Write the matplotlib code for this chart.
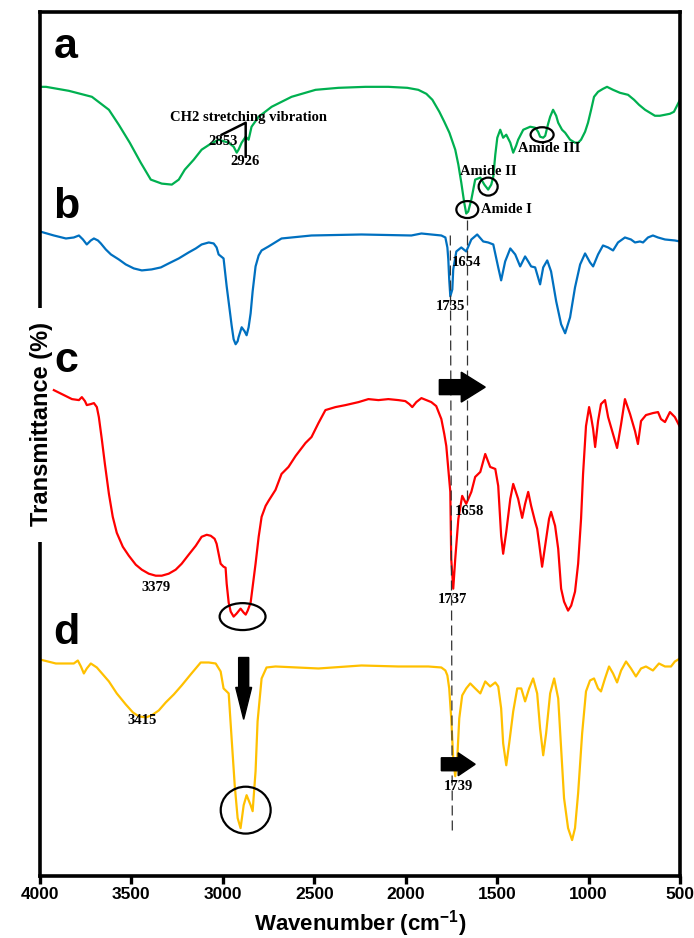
import matplotlib
matplotlib.use("Agg")
import matplotlib.pyplot as plt
from matplotlib.patches import Ellipse, FancyArrow, Rectangle

# wavenumbers (cm-1) and stacked transmittance (a.u.)
wn_a = [4000, 3967, 3842, 3716, 3623, 3569, 3509, 3449, 3394, 3334, 3279, 3241, 3208, 3159, 3116,
        3066, 3023, 2968, 2941, 2924, 2914, 2897, 2875, 2859, 2843, 2804, 2733, 2624, 2493, 2368,
        2220, 2095, 1991, 1931, 1887, 1854, 1816, 1789, 1761, 1729, 1712, 1696, 1680, 1669, 1658,
        1641, 1620, 1592, 1570, 1549, 1532, 1521, 1510, 1499, 1483, 1467, 1450, 1428, 1412, 1396,
        1385, 1357, 1319, 1292, 1276, 1265, 1248, 1237, 1221, 1210, 1194, 1177, 1166, 1145, 1128,
        1101, 1074, 1057, 1041, 1019, 1003, 986, 970, 948, 921, 899, 866, 828, 784, 751,
        724, 691, 664, 637, 610, 582, 555, 533, 522, 500]
t_a = [791, 791, 787, 781, 768, 753, 735, 715, 698, 694, 693, 698, 708, 718, 728,
       734, 738, 735, 731, 725, 728, 735, 741, 738, 751, 761, 771, 781, 788, 790,
       791, 791, 790, 788, 784, 778, 766, 756, 745, 728, 713, 695, 675, 664, 666,
       678, 698, 700, 693, 688, 693, 701, 723, 740, 748, 740, 743, 735, 725, 732,
       738, 748, 751, 750, 746, 741, 740, 742, 754, 761, 768, 762, 755, 748, 745,
       738, 735, 735, 738, 746, 755, 768, 781, 786, 789, 791, 788, 785, 783, 778,
       773, 768, 765, 762, 762, 763, 764, 766, 770, 778]

wn_b = [4000, 3924, 3858, 3815, 3787, 3765, 3744, 3722, 3705, 3683, 3667, 3640, 3612, 3569, 3531,
        3487, 3443, 3389, 3339, 3296, 3241, 3187, 3148, 3116, 3077, 3050, 3034, 3023, 2996, 2979,
        2963, 2952, 2941, 2930, 2919, 2914, 2897, 2881, 2870, 2859, 2848, 2837, 2821, 2804, 2788,
        2750, 2679, 2515, 2242, 1969, 1914, 1860, 1805, 1783, 1772, 1767, 1762, 1756, 1745, 1740,
        1723, 1696, 1669, 1641, 1609, 1576, 1549, 1521, 1494, 1478, 1456, 1428, 1401, 1374, 1347,
        1330, 1314, 1292, 1265, 1248, 1226, 1205, 1177, 1150, 1128, 1101, 1074, 1046, 1019, 992,
        975, 948, 921, 893, 866, 839, 801, 768, 746, 719, 702, 675, 648, 620, 582,
        528, 500]
t_b = [646, 642, 639, 640, 642, 638, 633, 637, 639, 637, 634, 628, 623, 618, 613,
       609, 607, 608, 610, 614, 619, 625, 629, 633, 635, 634, 630, 623, 619, 591,
       568, 552, 538, 533, 536, 540, 550, 546, 542, 550, 564, 586, 611, 622, 627,
       631, 639, 642, 643, 642, 644, 643, 642, 640, 630, 618, 598, 581, 588, 608,
       626, 630, 626, 638, 643, 636, 635, 633, 610, 597, 616, 629, 623, 611, 621,
       616, 611, 610, 593, 610, 617, 606, 576, 553, 544, 560, 590, 613, 624, 615,
       611, 623, 632, 630, 627, 635, 640, 638, 635, 636, 635, 640, 642, 640, 638,
       637, 636]

wn_c = [3924, 3869, 3825, 3787, 3771, 3754, 3744, 3722, 3705, 3689, 3678, 3662, 3645, 3623, 3602,
        3580, 3547, 3514, 3476, 3443, 3405, 3367, 3334, 3296, 3258, 3225, 3187, 3148, 3116, 3088,
        3066, 3045, 3034, 3023, 3012, 2996, 2985, 2979, 2968, 2957, 2941, 2925, 2903, 2886, 2875,
        2864, 2848, 2837, 2821, 2804, 2788, 2766, 2750, 2712, 2679, 2641, 2602, 2548, 2515, 2477,
        2439, 2384, 2329, 2258, 2204, 2149, 2095, 2040, 2002, 1980, 1964, 1942, 1914, 1860, 1833,
        1805, 1789, 1778, 1767, 1756, 1751, 1740, 1729, 1712, 1691, 1669, 1641, 1620, 1592, 1565,
        1538, 1510, 1494, 1478, 1467, 1450, 1428, 1412, 1385, 1363, 1347, 1330, 1314, 1292, 1281,
        1270, 1254, 1232, 1216, 1205, 1183, 1166, 1150, 1134, 1112, 1095, 1074, 1057, 1041, 1030,
        1014, 997, 986, 975, 964, 948, 932, 910, 893, 866, 844, 822, 801, 773, 746,
        730, 713, 686, 648, 620, 604, 582, 555, 528, 500]
t_c = [487, 482, 478, 477, 480, 476, 472, 473, 474, 470, 460, 438, 413, 383, 360,
       344, 330, 321, 312, 307, 303, 301, 301, 303, 307, 313, 322, 331, 340, 342,
       341, 338, 333, 323, 313, 310, 309, 293, 274, 265, 260, 263, 268, 264, 262,
       266, 274, 290, 313, 340, 360, 371, 376, 387, 403, 410, 421, 434, 440, 454,
       467, 470, 472, 475, 478, 477, 478, 477, 476, 473, 470, 475, 479, 475, 471,
       458, 443, 431, 408, 385, 318, 288, 318, 358, 381, 373, 385, 400, 405, 423,
       410, 408, 391, 341, 323, 345, 378, 393, 378, 359, 373, 385, 371, 355, 348,
       333, 310, 338, 358, 365, 351, 328, 288, 275, 266, 271, 285, 313, 358, 403,
       451, 470, 460, 448, 430, 456, 473, 477, 460, 443, 429, 453, 478, 463, 446,
       433, 456, 462, 464, 465, 458, 455, 465, 460, 450]

wn_d = [4000, 3913, 3815, 3793, 3776, 3760, 3744, 3722, 3689, 3656, 3623, 3580, 3531, 3492, 3460,
        3421, 3389, 3350, 3312, 3268, 3225, 3176, 3121, 3077, 3039, 3012, 2996, 2968, 2952, 2935,
        2919, 2903, 2886, 2870, 2848, 2837, 2821, 2810, 2788, 2761, 2712, 2477, 2242, 2040, 1876,
        1805, 1783, 1772, 1762, 1751, 1740, 1729, 1718, 1707, 1691, 1669, 1647, 1620, 1592, 1565,
        1538, 1510, 1494, 1478, 1467, 1450, 1434, 1412, 1390, 1368, 1347, 1325, 1303, 1281, 1265,
        1248, 1232, 1210, 1188, 1166, 1150, 1134, 1112, 1090, 1074, 1057, 1035, 1014, 992, 970,
        948, 932, 910, 888, 866, 844, 822, 795, 768, 741, 713, 686, 648, 615, 582,
        549, 528, 500]
t_d = [217, 213, 213, 216, 210, 203, 208, 213, 209, 202, 195, 183, 172, 164, 160,
       159, 161, 166, 174, 182, 191, 202, 214, 214, 213, 205, 188, 183, 138, 91,
       58, 48, 71, 81, 71, 65, 105, 155, 198, 209, 210, 208, 211, 210, 210,
       209, 206, 201, 188, 158, 118, 100, 118, 158, 181, 188, 193, 188, 183, 195,
       190, 194, 190, 168, 133, 111, 133, 165, 188, 188, 175, 188, 198, 183, 148,
       121, 143, 183, 198, 178, 128, 78, 48, 36, 48, 83, 143, 185, 196, 198,
       188, 185, 198, 210, 203, 194, 206, 215, 208, 200, 208, 210, 206, 213, 210,
       210, 215, 218]

series = [(wn_a, t_a, "#00B050"), (wn_b, t_b, "#0070C0"),
          (wn_c, t_c, "#FF0000"), (wn_d, t_d, "#FFC000")]

SANS = ["Liberation Sans", "DejaVu Sans"]
SERIF = ["Liberation Serif", "DejaVu Serif"]

fig = plt.figure(figsize=(6.94, 9.38), dpi=100)
ax = fig.add_axes([0.0576, 0.0661, 0.9222, 0.9211])

for wn, t, col in series:
    ax.plot(wn, t, color=col, lw=1.6, solid_joinstyle="round")

ax.set_xlim(4000, 500)
ax.set_ylim(0, 866)
ax.set_xticks([4000, 3500, 3000, 2500, 2000, 1500, 1000, 500])
ax.set_yticks([])
ax.tick_params(axis="x", direction="out", length=6, width=2.4, pad=2)
for lab in ax.get_xticklabels():
    lab.set_fontfamily(SANS)
    lab.set_fontweight("bold")
    lab.set_fontsize(12.5)
for sp in ax.spines.values():
    sp.set_linewidth(2.6)

ax.set_xlabel("Wavenumber (cm$^{\\mathregular{-1}}$)", fontsize=16, fontweight="bold",
              family=SANS, labelpad=4)

# gap in the left spine behind the y label
ax.add_patch(Rectangle((-0.012, 0.387), 0.024, 0.27, transform=ax.transAxes,
                       facecolor="white", edgecolor="none", clip_on=False, zorder=4))
ax.text(0.003, 0.523, "Transmittance (%)", transform=ax.transAxes, rotation=90,
        ha="center", va="center", fontsize=17, fontweight="bold", family=SANS, zorder=5)

# panel letters
for letter, x, y in [("a", 3858, 820), ("b", 3858, 660), ("c", 3858, 505), ("d", 3858, 233)]:
    ax.text(x, y, letter, ha="center", va="baseline", fontsize=31,
            fontweight="bold", family=SANS, zorder=6)

# peak labels
serif_kw = dict(family=SERIF, fontweight="bold", fontsize=10.5, va="center")
ax.text(2859, 760, "CH2 stretching vibration", ha="center", **serif_kw)
ax.text(3001, 736, "2853", ha="center", **serif_kw)
ax.text(2881, 716, "2926", ha="center", **serif_kw)
ax.plot([3006, 2875, 2875], [743, 755, 721], color="black", lw=1.8)
ax.text(1587, 668, "Amide I", ha="left", **serif_kw)
ax.text(1549, 706, "Amide II", ha="center", **serif_kw)
ax.text(1216, 729, "Amide III", ha="center", **serif_kw)
ax.text(1669, 615, "1654", ha="center", **serif_kw)
ax.text(1756, 571, "1735", ha="center", **serif_kw)
ax.text(1652, 365, "1658", ha="center", **serif_kw)
ax.text(1745, 277, "1737", ha="center", **serif_kw)
ax.text(3367, 289, "3379", ha="center", **serif_kw)
ax.text(3443, 156, "3415", ha="center", **serif_kw)
ax.text(1712, 90, "1739", ha="center", **serif_kw)

# circled bands
for cx, cy, w, h in [(2892, 260, 251, 27), (2875, 66, 273, 47),
                     (1663, 668, 120, 17), (1549, 691, 104, 18), (1254, 743, 126, 15)]:
    ax.add_patch(Ellipse((cx, cy), w, h, facecolor="none", edgecolor="black", lw=1.6, zorder=4))

# dashed guides
ax.plot([1756, 1745], [642, 45], color="#333333", lw=0.9, ls=(0, (8, 4)))
ax.plot([1663, 1663], [658, 373], color="#333333", lw=0.9, ls=(0, (8, 4)))

# shift arrows
ax.add_patch(FancyArrow(1816, 490, -251, 0, width=15, head_width=30, head_length=131,
                        length_includes_head=True, color="black", zorder=5))
ax.add_patch(FancyArrow(1805, 112, -185, 0, width=13, head_width=23, head_length=93,
                        length_includes_head=True, color="black", zorder=5))
ax.add_patch(FancyArrow(2886, 219, 0, -62, width=55, head_width=87, head_length=32,
                        length_includes_head=True, color="black", zorder=5))

fig.savefig("out.png", dpi=100)
